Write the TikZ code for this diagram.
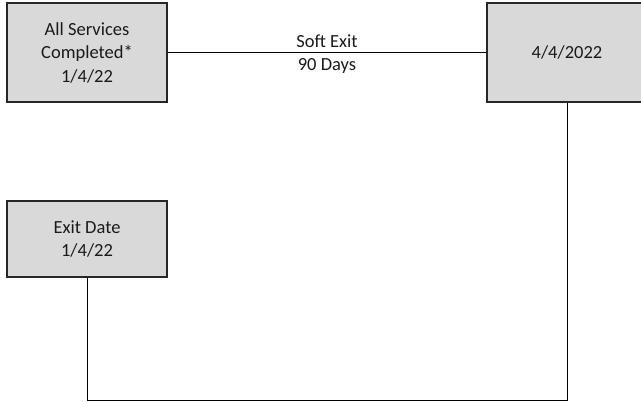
\documentclass[tikz,border=0pt]{standalone}
\usepackage{fontspec}
\setmainfont{Carlito}
\definecolor{boxfill}{HTML}{D9D9D9}
\definecolor{boxline}{HTML}{262626}
\definecolor{txt}{HTML}{1A1A1A}
\begin{document}
\begin{tikzpicture}[x=1pt,y=-1pt,
  box/.style={draw=boxline,fill=boxfill,line width=1.3pt,inner sep=0pt,align=center,text=txt,font=\fontsize{18.5}{23.5}\selectfont},
  conn/.style={draw=black,line width=1pt},
  lbl/.style={font=\fontsize{18.5}{23.5}\selectfont,text=txt,inner sep=0pt}]
\useasboundingbox (0,0) rectangle (641,402);
\node[box,minimum width=160pt,minimum height=99pt] (asc) at (87,52.5) {All Services\\Completed*\\1/4/22};
\node[box,minimum width=160pt,minimum height=99pt] (d22) at (567,52.5) {4/4/2022};
\node[box,minimum width=160pt,minimum height=76pt] (exit) at (87,239) {Exit Date\\1/4/22};
\coordinate (bl) at (87,400);
\coordinate (br) at (567,400);
\draw[conn] (asc.east) -- (d22.west);
\node[lbl] (soft) at (327,41) {Soft Exit};
\node[lbl] (days) at (327,66) {90 Days};
\draw[conn] (exit.south) -- (bl) -- (br) -- (d22.south);
\end{tikzpicture}
\end{document}
